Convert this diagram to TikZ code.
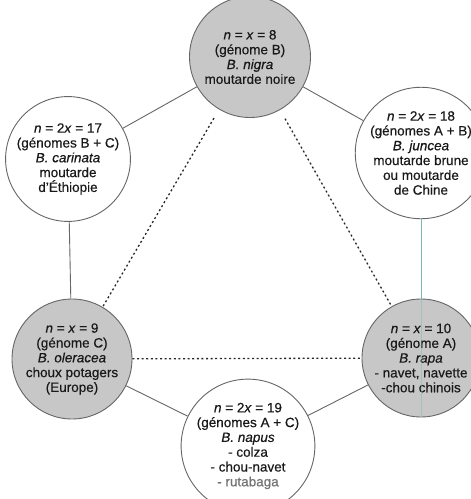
\documentclass[tikz,border=0pt]{standalone}
\usepackage{fontspec}
\setmainfont{Liberation Sans}[FakeBold=0.4]
\begin{document}
\begin{tikzpicture}[x=1pt,y=-1pt,
  species/.style={circle,draw=black!60,line width=0.9pt,inner sep=0pt,align=center,
    font=\fontsize{13.5}{14.8}\selectfont,text=black!90},
  diploid/.style={species,fill=black!22},
  hybrid/.style={species,fill=white},
  solidlink/.style={draw=black!60,line width=0.9pt},
  dotlink/.style={draw=black!85,line width=1.3pt,dash pattern=on 2pt off 2.6pt},
  tealink/.style={draw={rgb,255:red,120;green,182;blue,184},line width=1pt}]
\useasboundingbox (0,0) rectangle (471,499);

\node[diploid,minimum size=121pt] (B) at (250,57)
  {\textit{n} = \textit{x} = 8\\(génome B)\\\textit{B. nigra}\\moutarde noire};
\node[hybrid,minimum size=118pt] (car) at (68,159)
  {\textit{n} = 2\textit{x} = 17\\(génomes B + C)\\\textit{B. carinata}\\moutarde\\d'Éthiopie};
\node[hybrid,minimum size=120pt] (jun) at (421,153)
  {\textit{n} = 2\textit{x} = 18\\(génomes A + B)\\\textit{B. juncea}\\moutarde brune\\ou moutarde\\de Chine};
\node[diploid,minimum size=120pt] (ole) at (72,359)
  {\textit{n} = \textit{x} = 9\\(génome C)\\\textit{B. oleracea}\\choux potagers\\(Europe)};
\node[diploid,minimum size=118pt] (rap) at (421,358)
  {\textit{n} = \textit{x} = 10\\(génome A)\\\textit{B. rapa}\\- navet, navette\\-chou chinois};
\node[hybrid,minimum size=116pt] (nap) at (248,446)
  {\textit{n} = 2\textit{x} = 19\\(génomes A + C)\\\textit{B. napus}\\- colza\\- chou-navet\\\textcolor{black!55}{- rutabaga}};

\draw[solidlink] (B) -- (car);
\draw[solidlink] (B) -- (jun);
\draw[solidlink] (car) -- (ole);
\draw[tealink] (jun) -- (rap);
\draw[tealink,opacity=0.45] (rap.north) -- (rap.south);
\draw[solidlink] (ole) -- (nap);
\draw[solidlink] (rap) -- (nap);

\draw[dotlink,shorten <=10pt] (B) -- (ole);
\draw[dotlink,shorten <=10pt] (B) -- (rap);
\draw[dotlink] (ole) -- (rap);
\end{tikzpicture}
\end{document}
